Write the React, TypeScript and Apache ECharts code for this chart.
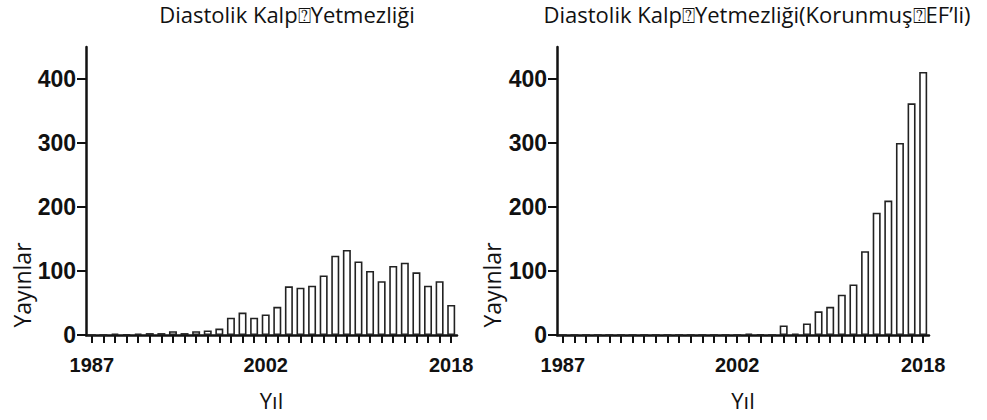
import React, { useEffect, useRef } from "react";
import * as echarts from "echarts";

const years: string[] = [
  "1987","1988","1989","1990","1991","1992","1993","1994","1995","1996",
  "1997","1998","1999","2000","2001","2002","2003","2004","2005","2006",
  "2007","2008","2009","2010","2011","2012","2013","2014","2015","2016",
  "2017","2018",
];
const shownYearLabels: string[] = ["1987", "2002", "2018"];

const diastolicHF: number[] = [
  0, 0, 2, 1, 2, 3, 3, 6, 3, 6,
  7, 10, 27, 35, 27, 32, 44, 76, 74, 77,
  93, 124, 133, 115, 100, 84, 108, 113, 98, 77,
  84, 47,
];
const diastolicHFpEF: number[] = [
  0, 0, 0, 0, 0, 0, 0, 0, 0, 0,
  0, 0, 0, 0, 0, 0, 2, 1, 0, 15,
  2, 18, 37, 44, 63, 79, 131, 191, 210, 300,
  362, 411,
];
const yTicks: number[] = [0, 100, 200, 300, 400];

const titles = ["Diastolik Kalp⍰Yetmezliği", "Diastolik Kalp⍰Yetmezliği(Korunmuş⍰EF’li)"];
const yName = "Yayınlar";
const xName = "Yıl";

const TEXT_FONT = "'Open Sans', 'DejaVu Sans', sans-serif";
const NUM_FONT = "'Liberation Sans Narrow', 'Arial Narrow', 'Liberation Sans', Arial, sans-serif";

export default function App() {
  const ref = useRef<HTMLDivElement>(null);
  useEffect(() => {
    if (!ref.current) return;
    const chart = echarts.init(ref.current, null, { renderer: "svg" });
    const grids = [
      { left: 86, width: 371, top: 47, bottom: 85 },
      { left: 557, width: 372, top: 47, bottom: 85 },
    ];
    const axisLine = { show: true, lineStyle: { color: "#111", width: 2.5 } };
    const xAxes = grids.map((_, i) => ({
      type: "category",
      gridIndex: i,
      data: years,
      boundaryGap: true,
      name: xName,
      nameLocation: "middle",
      nameGap: 54,
      nameTextStyle: { fontFamily: TEXT_FONT, fontSize: 22, color: "#111" },
      axisLine,
      axisTick: { show: true, interval: 0, alignWithLabel: true, length: 8, lineStyle: { color: "#111", width: 2 } },
      axisLabel: {
        interval: 0,
        formatter: (v: string) => (shownYearLabels.includes(v) ? v : ""),
        margin: 20,
        fontFamily: NUM_FONT,
        fontWeight: "bold",
        fontSize: 20,
        color: "#111",
      },
      splitLine: { show: false },
    }));
    const yAxes = grids.map((_, i) => ({
      type: "value",
      gridIndex: i,
      min: 0,
      max: 450,
      interval: 50,
      axisLine,
      axisTick: { show: true, length: 9, customValues: yTicks, lineStyle: { color: "#111", width: 2 } },
      axisLabel: {
        customValues: yTicks,
        margin: 10,
        fontFamily: NUM_FONT,
        fontWeight: "bold",
        fontSize: 23,
        color: "#111",
      },
      splitLine: { show: false },
    }));
    const barStyle = { color: "#fff", borderColor: "#222", borderWidth: 1.6 };
    const titleStyle = { fontFamily: TEXT_FONT, fontWeight: "normal", fontSize: 22, color: "#111" };
    chart.setOption({
      animation: false,
      backgroundColor: "#fff",
      title: [
        { text: titles[0], left: 282, top: -2, textAlign: "center", textStyle: titleStyle },
        { text: titles[1], left: 752, top: -2, textAlign: "center", textStyle: titleStyle },
      ],
      grid: grids,
      xAxis: xAxes,
      yAxis: yAxes,
      graphic: [
        { type: "text", x: 22, y: 285, rotation: Math.PI / 2,
          style: { text: yName, font: `23px ${TEXT_FONT}`, fill: "#111", align: "center", verticalAlign: "middle" } },
        { type: "text", x: 492, y: 285, rotation: Math.PI / 2,
          style: { text: yName, font: `23px ${TEXT_FONT}`, fill: "#111", align: "center", verticalAlign: "middle" } },
      ],
      series: [
        { type: "bar", xAxisIndex: 0, yAxisIndex: 0, data: diastolicHF, barWidth: 8, itemStyle: barStyle },
        { type: "bar", xAxisIndex: 1, yAxisIndex: 1, data: diastolicHFpEF, barWidth: 8, itemStyle: barStyle },
      ],
    });
    return () => chart.dispose();
  }, []);
  return <div ref={ref} style={{ width: 987, height: 420, position: "absolute", left: 0, top: 0 }} />;
}
